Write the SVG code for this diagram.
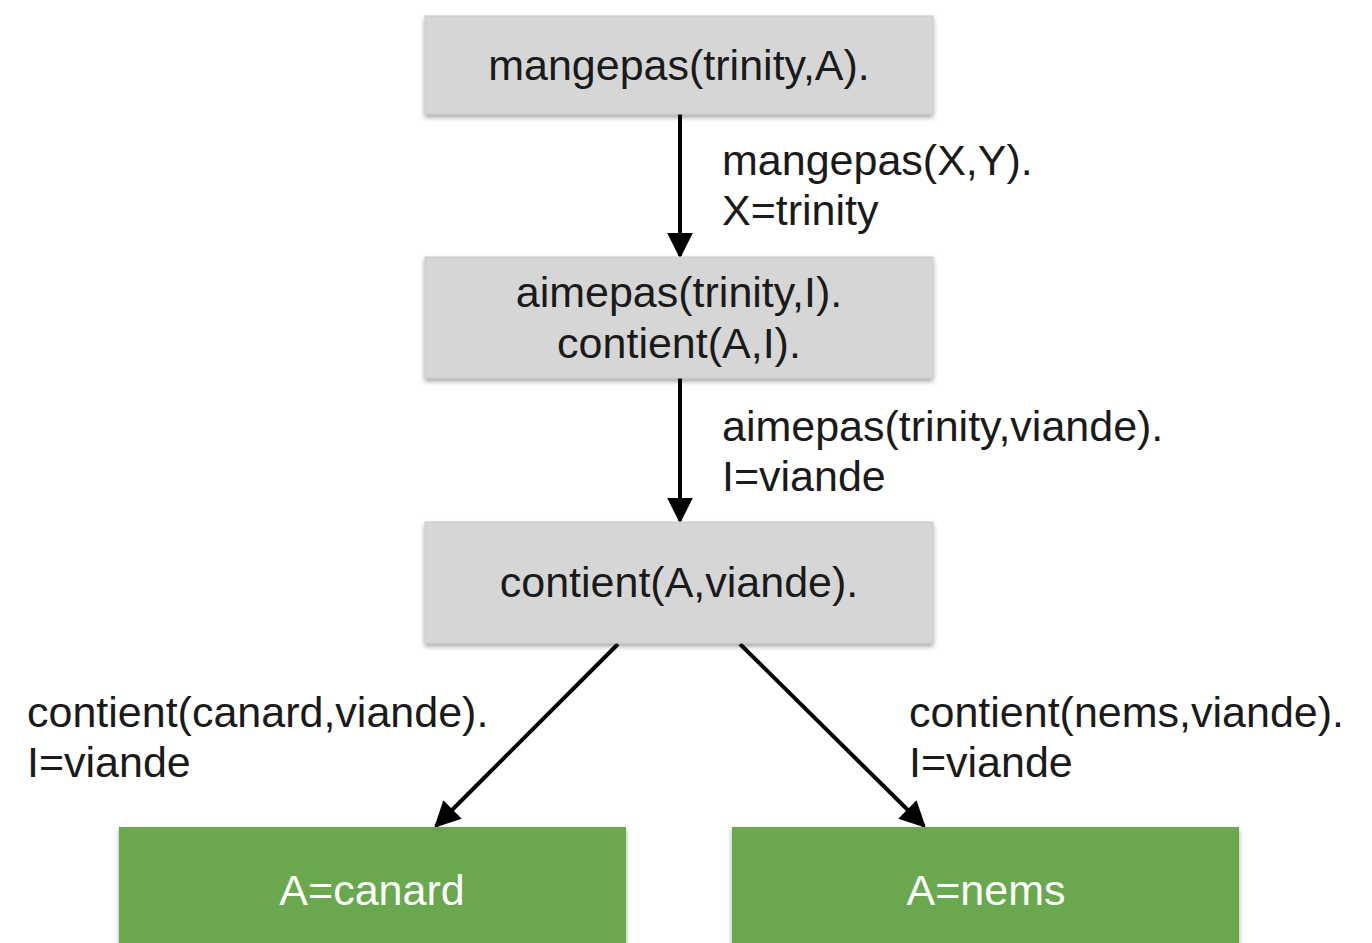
<svg xmlns="http://www.w3.org/2000/svg" width="1372" height="943" viewBox="0 0 1372 943">
<style>
.gray{fill:#d6d6d6;stroke:#c8c8c8;stroke-width:1}
.green{fill:#6aa84f}
.t{font-family:"Liberation Sans",Arial,sans-serif;font-size:43px;fill:#1a1a1a}
.c{text-anchor:middle}
.w{fill:#ffffff}
.edge{stroke:#000;stroke-width:4;fill:none;marker-end:url(#ah)}
</style>
<defs>
<filter id="sh" x="-5%" y="-10%" width="110%" height="130%">
<feDropShadow dx="0" dy="3" stdDeviation="2.5" flood-color="#000" flood-opacity="0.35"/>
</filter>
<marker id="ah" viewBox="0 0 10 10" refX="9" refY="5" markerWidth="6.5" markerHeight="6.5" orient="auto" markerUnits="strokeWidth">
<path d="M0,0 L10,5 L0,10 z" fill="#000"/>
</marker>
</defs>
<g id="connectors">
<line class="edge" x1="680" y1="114" x2="680" y2="256"/>
<line class="edge" x1="680" y1="378" x2="680" y2="521"/>
<line class="edge" x1="618" y1="644" x2="436" y2="826"/>
<line class="edge" x1="740" y1="644" x2="924" y2="826"/>
<text class="t" x="722" y="175">mangepas(X,Y).</text>
<text class="t" x="722" y="225">X=trinity</text>
<text class="t" x="722" y="441">aimepas(trinity,viande).</text>
<text class="t" x="722" y="491">I=viande</text>
<text class="t" x="27" y="727">contient(canard,viande).</text>
<text class="t" x="27" y="777">I=viande</text>
<text class="t" x="909" y="727">contient(nems,viande).</text>
<text class="t" x="909" y="777">I=viande</text>
</g>
<g id="n1">
<rect class="gray" x="425" y="16" width="508" height="98" filter="url(#sh)"/>
<text class="t c" x="679" y="80">mangepas(trinity,A).</text>
</g>
<g id="n2">
<rect class="gray" x="425" y="257" width="508" height="121" filter="url(#sh)"/>
<text class="t c" x="679" y="307">aimepas(trinity,I).</text>
<text class="t c" x="679" y="358">contient(A,I).</text>
</g>
<g id="n3">
<rect class="gray" x="425" y="522" width="508" height="121" filter="url(#sh)"/>
<text class="t c" x="679" y="597">contient(A,viande).</text>
</g>
<g id="n4">
<rect class="green" x="119" y="827" width="507" height="130" filter="url(#sh)"/>
<text class="t c w" x="372" y="905">A=canard</text>
</g>
<g id="n5">
<rect class="green" x="732" y="827" width="507" height="130" filter="url(#sh)"/>
<text class="t c w" x="986" y="905">A=nems</text>
</g>
</svg>
